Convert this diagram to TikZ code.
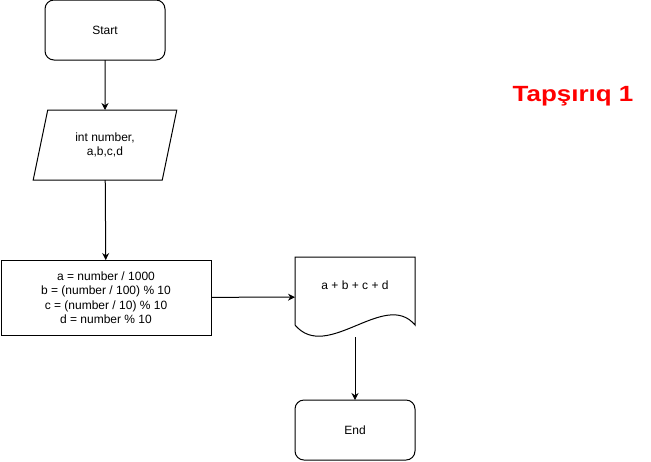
\documentclass[tikz,border=0pt]{standalone}
\usepackage{fontspec}
\setmainfont{Liberation Sans}
\usepackage{tikz}
\usetikzlibrary{positioning,shapes.geometric,arrows.meta,calc}

\begin{document}
\begin{tikzpicture}[x=1pt,y=-1pt,outer sep=0pt]
\tikzstyle{term}=[rectangle, rounded corners=9pt, draw=black, line width=1pt, minimum width=120pt, minimum height=60pt, font=\fontsize{12}{14.4}\selectfont]
\tikzstyle{io}=[trapezium, trapezium left angle=73, trapezium right angle=107, trapezium stretches=true, draw=black, line width=1pt, minimum width=144pt, minimum height=70pt, inner sep=0pt, align=center, font=\fontsize{12}{14.4}\selectfont]
\tikzstyle{proc}=[rectangle, draw=black, line width=1pt, minimum width=210pt, minimum height=75pt, align=center, font=\fontsize{12}{14.4}\selectfont]
\tikzstyle{docbox}=[rectangle, minimum width=120pt, minimum height=80pt, inner sep=0pt]
\tikzstyle{connect}=[-{Stealth[length=7pt,width=7pt]}, line width=1pt]
  \useasboundingbox (0,0) rectangle (651,461);
  \node[term] (start) at (105,30) {Start};
  \node[io] (inp) [below=50pt of start] {int number,\\a,b,c,d};
  \node[proc] (calc) [below=80pt of inp, xshift=1pt] {a = number / 1000\\b = (number / 100) \% 10\\c = (number / 10) \% 10\\d = number \% 10};
  \node[docbox] (out) [right=84pt of calc, yshift=0.5pt] {};
  \node[font=\fontsize{12}{14.4}\selectfont] (outtxt) at ([yshift=12pt]out.center) {a + b + c + d};
  \draw[line width=1pt] ($(out.north west)+(0,68)$) -- (out.north west) -- (out.north east) -- ($(out.north west)+(120,68)$)
    .. controls ($(out.north west)+(90,32)$) and ($(out.north west)+(32,106)$) .. ($(out.north west)+(0,68)$);
  \node[term] (end) [below=63pt of out] {End};
  \node[text=red, anchor=base, font=\fontsize{22}{26}\selectfont\bfseries] (title) at (573,101.5) {\scalebox{1.18}[1]{Tapşırıq 1}};
  \path (start) edge [connect] (inp);
  \path (inp) edge [connect] (calc);
  \path (calc) edge [connect] (out);
  \path (out) edge [connect] (end);
\end{tikzpicture}
\end{document}
